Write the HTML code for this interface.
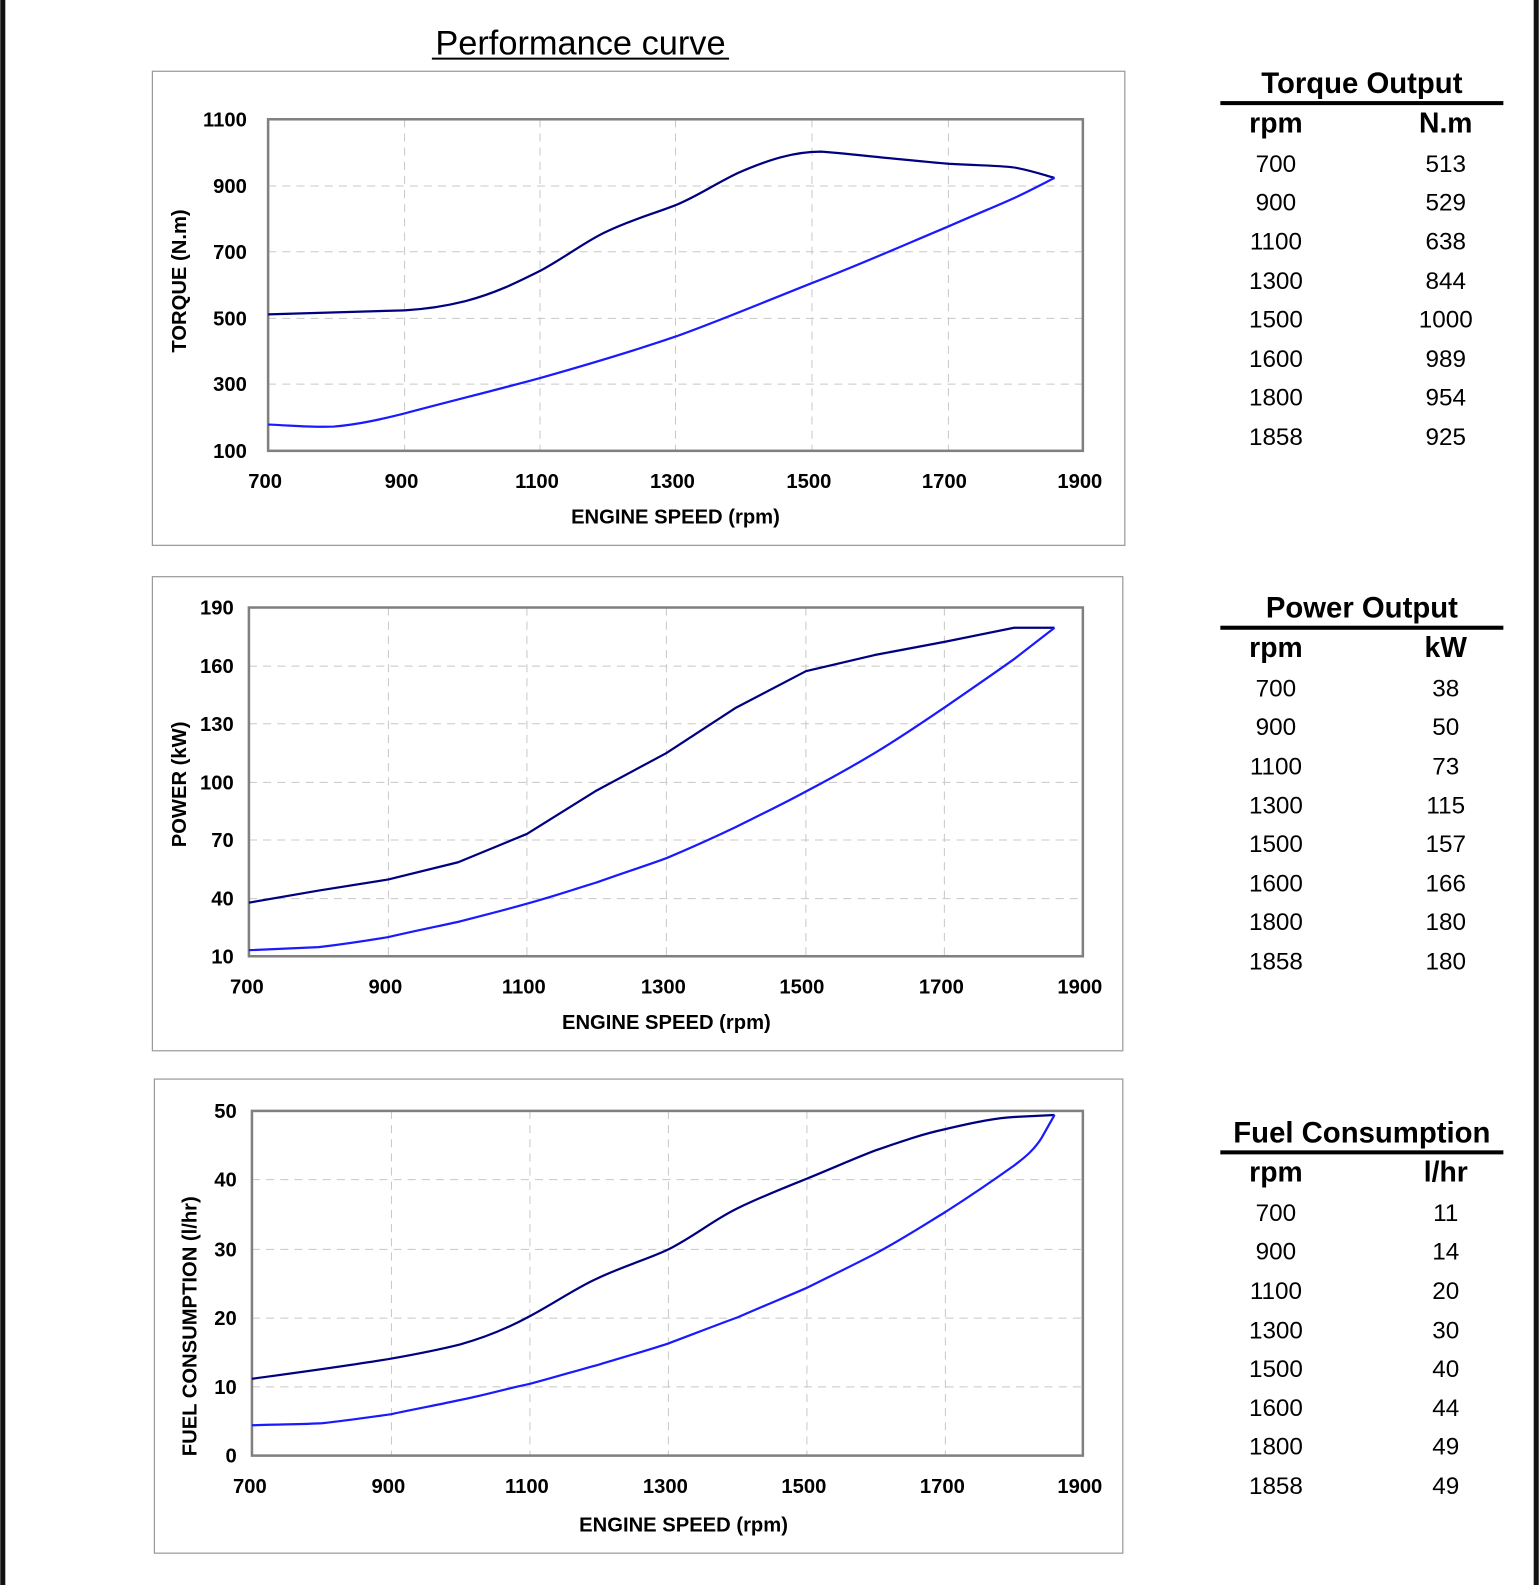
<!DOCTYPE html>
<html><head><meta charset="utf-8"><style>
html,body{margin:0;padding:0;background:#fff}
svg{display:block}
text{font-family:"Liberation Sans",Arial,sans-serif}
.t{font-size:20px;font-weight:bold;fill:#000}
.g{stroke:#c8c8c8;stroke-width:1;stroke-dasharray:8,6;fill:none}
.f{fill:none;stroke:#999;stroke-width:1.2}
.ax{fill:none;stroke:#808080;stroke-width:2.5}
.d{fill:none;stroke:#000080;stroke-width:2.2;stroke-linejoin:round}
.b{fill:none;stroke:#1a1aff;stroke-width:2.2;stroke-linejoin:round}
.th{font-size:29px;font-weight:bold}
.hd{font-size:28px;font-weight:bold}
.r{font-size:24px}
</style></head><body>
<svg width="1539" height="1585" viewBox="0 0 1522 1568" xmlns="http://www.w3.org/2000/svg">
<rect x="0" y="0" width="5" height="1568" fill="#111"/>
<rect x="1517" y="0" width="5" height="1568" fill="#111"/>
<text x="574" y="54" font-size="34" text-anchor="middle">Performance curve</text>
<line x1="427" y1="58" x2="721" y2="58" stroke="#000" stroke-width="2"/>

<!-- Chart 1 -->
<rect class="f" x="150.5" y="70.5" width="962" height="469"/>
<g class="g">
<line x1="265" y1="184" x2="1071" y2="184"/><line x1="265" y1="249" x2="1071" y2="249"/><line x1="265" y1="315" x2="1071" y2="315"/><line x1="265" y1="380" x2="1071" y2="380"/>
<line x1="400" y1="118" x2="400" y2="446"/><line x1="534" y1="118" x2="534" y2="446"/><line x1="668" y1="118" x2="668" y2="446"/><line x1="803" y1="118" x2="803" y2="446"/><line x1="938" y1="118" x2="938" y2="446"/>
</g>
<rect class="ax" x="265" y="118" width="806" height="328"/>
<g class="t" text-anchor="end">
<text x="244" y="125">1100</text><text x="244" y="191">900</text><text x="244" y="256">700</text><text x="244" y="322">500</text><text x="244" y="387">300</text><text x="244" y="453">100</text>
</g>
<g class="t" text-anchor="middle">
<text x="262" y="483">700</text><text x="397" y="483">900</text><text x="531" y="483">1100</text><text x="665" y="483">1300</text><text x="800" y="483">1500</text><text x="934" y="483">1700</text><text x="1068" y="483">1900</text>
<text x="668" y="518">ENGINE SPEED (rpm)</text>
<text transform="translate(184,278) rotate(-90)">TORQUE (N.m)</text>
</g>
<path class="d" d="M265,311 C330,309 370,308 400,307 C420,306 440,303 460,298 C490,290 510,280 534,268 C560,254 580,238 600,229 C625,217 645,212 668,203 C690,194 705,183 730,171 C760,158 785,150 812,150 C850,153 880,157 938,162 C975,164 995,164 1005,166 C1025,170 1035,174 1043,176"/>
<path class="b" d="M265,420 C290,421 310,423 330,422 C355,420 380,414 400,409 C445,397 490,386 534,374 C580,361 630,346 668,333 C710,318 760,297 803,280 C850,262 895,242 938,224 C970,210 990,202 1005,195 C1020,188 1035,180 1043,176"/>

<!-- Chart 2 -->
<rect class="f" x="150.5" y="570.5" width="960" height="469"/>
<g class="g">
<line x1="246" y1="659" x2="1071" y2="659"/><line x1="246" y1="716" x2="1071" y2="716"/><line x1="246" y1="774" x2="1071" y2="774"/><line x1="246" y1="831" x2="1071" y2="831"/><line x1="246" y1="889" x2="1071" y2="889"/>
<line x1="384" y1="601" x2="384" y2="946"/><line x1="521" y1="601" x2="521" y2="946"/><line x1="659" y1="601" x2="659" y2="946"/><line x1="797" y1="601" x2="797" y2="946"/><line x1="934" y1="601" x2="934" y2="946"/>
</g>
<rect class="ax" x="246" y="601" width="825" height="345"/>
<g class="t" text-anchor="end">
<text x="231" y="608">190</text><text x="231" y="666">160</text><text x="231" y="723">130</text><text x="231" y="781">100</text><text x="231" y="838">70</text><text x="231" y="896">40</text><text x="231" y="953">10</text>
</g>
<g class="t" text-anchor="middle">
<text x="244" y="983">700</text><text x="381" y="983">900</text><text x="518" y="983">1100</text><text x="656" y="983">1300</text><text x="793" y="983">1500</text><text x="931" y="983">1700</text><text x="1068" y="983">1900</text>
<text x="659" y="1018">ENGINE SPEED (rpm)</text>
<text transform="translate(184,776) rotate(-90)">POWER (kW)</text>
</g>
<polyline class="d" points="246,893 315,881 384,870 453,853 521,825 590,782 659,745 728,700 797,664 865,648 934,635 1003,621 1043,621"/>
<path class="b" d="M246,940 L315,937 C340,934 360,931 384,927 C410,921 430,917 453,912 C480,905 500,900 521,894 C550,886 570,879 590,873 C615,864 640,856 659,849 C685,838 705,829 728,818 C750,807 775,795 797,783 C820,771 845,757 865,745 C890,730 912,715 934,700 C960,682 982,667 1003,652 L1043,621"/>

<!-- Chart 3 -->
<rect class="f" x="152.5" y="1067.5" width="958" height="469"/>
<g class="g">
<line x1="249" y1="1167" x2="1071" y2="1167"/><line x1="249" y1="1236" x2="1071" y2="1236"/><line x1="249" y1="1304" x2="1071" y2="1304"/><line x1="249" y1="1372" x2="1071" y2="1372"/>
<line x1="387" y1="1099" x2="387" y2="1440"/><line x1="524" y1="1099" x2="524" y2="1440"/><line x1="661" y1="1099" x2="661" y2="1440"/><line x1="798" y1="1099" x2="798" y2="1440"/><line x1="935" y1="1099" x2="935" y2="1440"/>
</g>
<rect class="ax" x="249" y="1099" width="822" height="341"/>
<g class="t" text-anchor="end">
<text x="234" y="1106">50</text><text x="234" y="1174">40</text><text x="234" y="1243">30</text><text x="234" y="1311">20</text><text x="234" y="1379">10</text><text x="234" y="1447">0</text>
</g>
<g class="t" text-anchor="middle">
<text x="247" y="1477">700</text><text x="384" y="1477">900</text><text x="521" y="1477">1100</text><text x="658" y="1477">1300</text><text x="795" y="1477">1500</text><text x="932" y="1477">1700</text><text x="1068" y="1477">1900</text>
<text x="676" y="1515">ENGINE SPEED (rpm)</text>
<text transform="translate(194,1312) rotate(-90)">FUEL CONSUMPTION (l/hr)</text>
</g>
<path class="d" d="M249,1364 C300,1357 345,1351 387,1344 C415,1339 435,1335 455,1330 C480,1323 502,1314 524,1302 C550,1288 570,1274 590,1265 C620,1251 640,1246 661,1236 C690,1221 705,1207 730,1195 C755,1183 778,1174 798,1166 C825,1155 845,1146 866,1138 C895,1128 912,1122 935,1117 C965,1110 985,1106 1003,1105 L1043,1103"/>
<path class="b" d="M249,1410 C280,1409 300,1409 318,1408 C345,1405 365,1402 387,1399 C410,1394 432,1390 455,1385 C480,1380 500,1374 524,1369 C550,1362 570,1356 592,1350 C615,1343 640,1336 661,1329 C685,1320 708,1311 730,1303 C755,1292 775,1284 798,1274 C822,1262 845,1251 866,1240 C892,1226 912,1213 935,1199 C960,1183 982,1168 1003,1153 C1015,1144 1023,1137 1030,1126 L1043,1103"/>

<!-- Tables -->
<g text-anchor="middle" fill="#000">
<text class="th" x="1347" y="92">Torque Output</text>
<rect x="1207" y="100" width="280" height="4"/>
<text class="hd" x="1262" y="131">rpm</text><text class="hd" x="1430" y="131">N.m</text>
<g class="r">
<text x="1262" y="170">700</text><text x="1430" y="170">513</text>
<text x="1262" y="208">900</text><text x="1430" y="208">529</text>
<text x="1262" y="247">1100</text><text x="1430" y="247">638</text>
<text x="1262" y="286">1300</text><text x="1430" y="286">844</text>
<text x="1262" y="324">1500</text><text x="1430" y="324">1000</text>
<text x="1262" y="363">1600</text><text x="1430" y="363">989</text>
<text x="1262" y="401">1800</text><text x="1430" y="401">954</text>
<text x="1262" y="440">1858</text><text x="1430" y="440">925</text>
</g>
<text class="th" x="1347" y="611">Power Output</text>
<rect x="1207" y="619" width="280" height="4"/>
<text class="hd" x="1262" y="650">rpm</text><text class="hd" x="1430" y="650">kW</text>
<g class="r">
<text x="1262" y="689">700</text><text x="1430" y="689">38</text>
<text x="1262" y="727">900</text><text x="1430" y="727">50</text>
<text x="1262" y="766">1100</text><text x="1430" y="766">73</text>
<text x="1262" y="805">1300</text><text x="1430" y="805">115</text>
<text x="1262" y="843">1500</text><text x="1430" y="843">157</text>
<text x="1262" y="882">1600</text><text x="1430" y="882">166</text>
<text x="1262" y="920">1800</text><text x="1430" y="920">180</text>
<text x="1262" y="959">1858</text><text x="1430" y="959">180</text>
</g>
<text class="th" x="1347" y="1130">Fuel Consumption</text>
<rect x="1207" y="1138" width="280" height="4"/>
<text class="hd" x="1262" y="1169">rpm</text><text class="hd" x="1430" y="1169">l/hr</text>
<g class="r">
<text x="1262" y="1208">700</text><text x="1430" y="1208">11</text>
<text x="1262" y="1246">900</text><text x="1430" y="1246">14</text>
<text x="1262" y="1285">1100</text><text x="1430" y="1285">20</text>
<text x="1262" y="1324">1300</text><text x="1430" y="1324">30</text>
<text x="1262" y="1362">1500</text><text x="1430" y="1362">40</text>
<text x="1262" y="1401">1600</text><text x="1430" y="1401">44</text>
<text x="1262" y="1439">1800</text><text x="1430" y="1439">49</text>
<text x="1262" y="1478">1858</text><text x="1430" y="1478">49</text>
</g>
</g>
</svg>
</body></html>
